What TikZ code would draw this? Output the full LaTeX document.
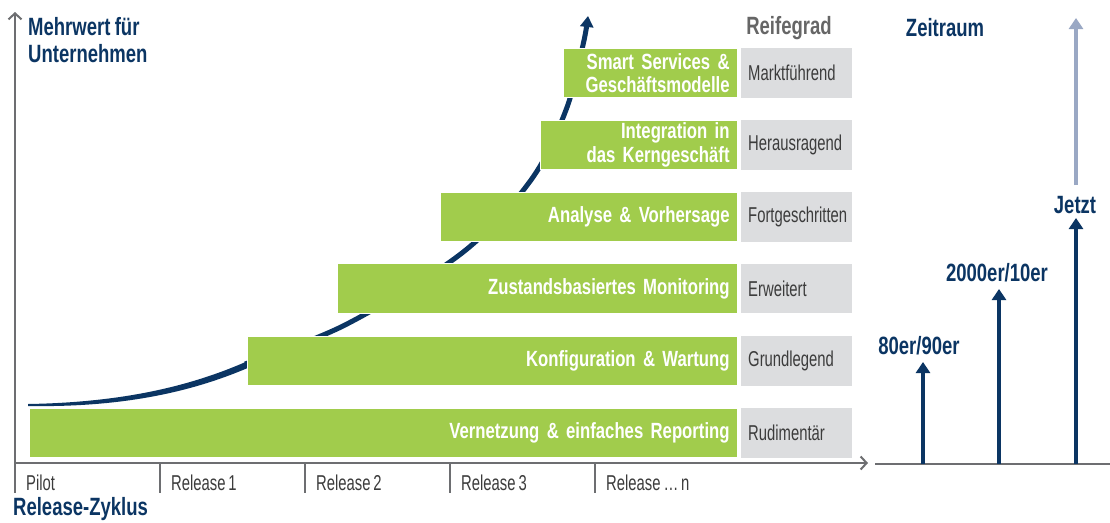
\documentclass[tikz,border=0pt]{standalone}
\usepackage{fontspec}
\setmainfont[FakeStretch=0.76,WordSpace=0.45]{Liberation Sans}
\newfontfamily\lightfont[FakeStretch=0.69,WordSpace=0.7]{Liberation Sans}
\newfontfamily\headfont[FakeStretch=0.74,WordSpace=0.85]{Liberation Sans}
\usetikzlibrary{arrows.meta}
\definecolor{navy}{HTML}{0B3563}
\definecolor{grn}{HTML}{A1CC4C}
\definecolor{lgray}{HTML}{DCDDDF}
\definecolor{axgray}{HTML}{6D6E71}
\definecolor{txtgray}{HTML}{3C3C3C}
\definecolor{hdgray}{HTML}{666666}
\definecolor{lblue}{HTML}{9AA8C4}
\begin{document}
\begin{tikzpicture}[x=1pt,y=-1pt,
  greenbar/.style={fill=grn, draw=white, line width=0.8pt, minimum height=49.5pt, inner xsep=8pt, inner ysep=0pt, anchor=east, align=right, text=white, font=\fontsize{22}{23.5}\selectfont\bfseries},
  levelbox/.style={fill=lgray, minimum height=49.5pt, text width=97pt, inner xsep=7pt, inner ysep=0pt, anchor=west, align=left, text=txtgray, font=\fontsize{21.5}{23}\lightfont},
  heading/.style={font=\fontsize{25}{27}\headfont\bfseries, text=navy, inner sep=0pt},
  ticklabel/.style={font=\fontsize{21.5}{23}\lightfont, text=txtgray, anchor=west, inner sep=0pt},
  axis/.style={draw=axgray, line width=2.5pt},
  navyarrow/.style={draw=navy, line width=4.5pt, -{Triangle[length=11pt,width=14pt]}},
  lightarrow/.style={draw=lblue, line width=4.5pt, -{Triangle[length=11pt,width=14pt]}}
]
\useasboundingbox (0,0) rectangle (1110,522);

% growth curve (behind the bars)
\fill[navy] (28,404) .. controls (120,402.5) and (190,387) .. (250,360) -- (250,367) .. controls (190,393) and (120,407.5) .. (28,406) -- cycle;
\draw[navy, line width=5pt, -{Triangle[length=11pt,width=13pt]}] plot[smooth, tension=0.55] coordinates {(245,364) (345,325) (462,253) (531,180) (566,110) (583,45) (588,16)};

% axes
\coordinate (yb) at (15,493);
\coordinate (yt) at (15,12);
\coordinate (xl) at (15,463);
\coordinate (xr) at (868,463);
\draw[axis, -{Straight Barb[length=6pt,width=13pt,line width=2pt]}] (yb) -- (yt);
\draw[axis, -{Straight Barb[length=6pt,width=13pt,line width=2pt]}] (xl) -- (xr);
\foreach \x in {160,305,450,595} {
  \coordinate (tk\x a) at (\x,463);
  \coordinate (tk\x b) at (\x,493);
  \draw[axis] (tk\x a) -- (tk\x b);
}
\node[ticklabel] (p0) at (26,483) {Pilot};
\node[ticklabel] (p1) at (171,483) {Release 1};
\node[ticklabel] (p2) at (316,483) {Release 2};
\node[ticklabel] (p3) at (461,483) {Release 3};
\node[ticklabel] (p4) at (606,483) {Release \dots\ n};

\node[heading, anchor=west] (xlab) at (13,509) {Release-Zyklus};
\node[heading, anchor=west, align=left] (ylab) at (28,40) {Mehrwert für\\Unternehmen};

% green bars
\node[greenbar, text width=692pt] (b1) at (738,433) {Vernetzung \& einfaches Reporting};
\node[greenbar, text width=474pt] (b2) at (738,361) {Konfiguration \& Wartung};
\node[greenbar, text width=384pt] (b3) at (738,288.5) {Zustandsbasiertes Monitoring};
\node[greenbar, text width=281pt] (b4) at (738,217) {Analyse \& Vorhersage};
\node[greenbar, text width=181pt] (b5) at (738,145) {Integration in\\das Kerngeschäft};
\node[greenbar, text width=158pt] (b6) at (738,73) {Smart Services \&\\Geschäftsmodelle};

% maturity boxes
\node[levelbox] (r1) at (741,433) {Rudimentär};
\node[levelbox] (r2) at (741,361) {Grundlegend};
\node[levelbox] (r3) at (741,288.5) {Erweitert};
\node[levelbox] (r4) at (741,217) {Fortgeschritten};
\node[levelbox] (r5) at (741,145) {Herausragend};
\node[levelbox] (r6) at (741,73) {Marktführend};
\node[heading, text=hdgray] (reife) at (789,28) {Reifegrad};

% time axis
\node[heading] (zeit) at (945,28) {Zeitraum};
\coordinate (tl0) at (875,464);
\coordinate (tl1) at (1110,464);
\draw[axis] (tl0) -- (tl1);
\node[heading] (l1) at (919,346) {80er/90er};
\node[heading] (l2) at (997,273) {2000er/10er};
\node[heading] (l3) at (1075,205) {Jetzt};
\coordinate (a1) at (923,464);
\coordinate (a2) at (999,464);
\coordinate (a3) at (1076,464);
\coordinate (a1t) at (923,362);
\coordinate (a2t) at (999,289);
\coordinate (a3t) at (1076,218);
\coordinate (ztop) at (1076,18);
\coordinate (zbot) at (1076,185);
\draw[navyarrow] (a1) -- (a1t);
\draw[navyarrow] (a2) -- (a2t);
\draw[navyarrow] (a3) -- (a3t);
\draw[lightarrow] (zbot) -- (ztop);
\end{tikzpicture}
\end{document}
